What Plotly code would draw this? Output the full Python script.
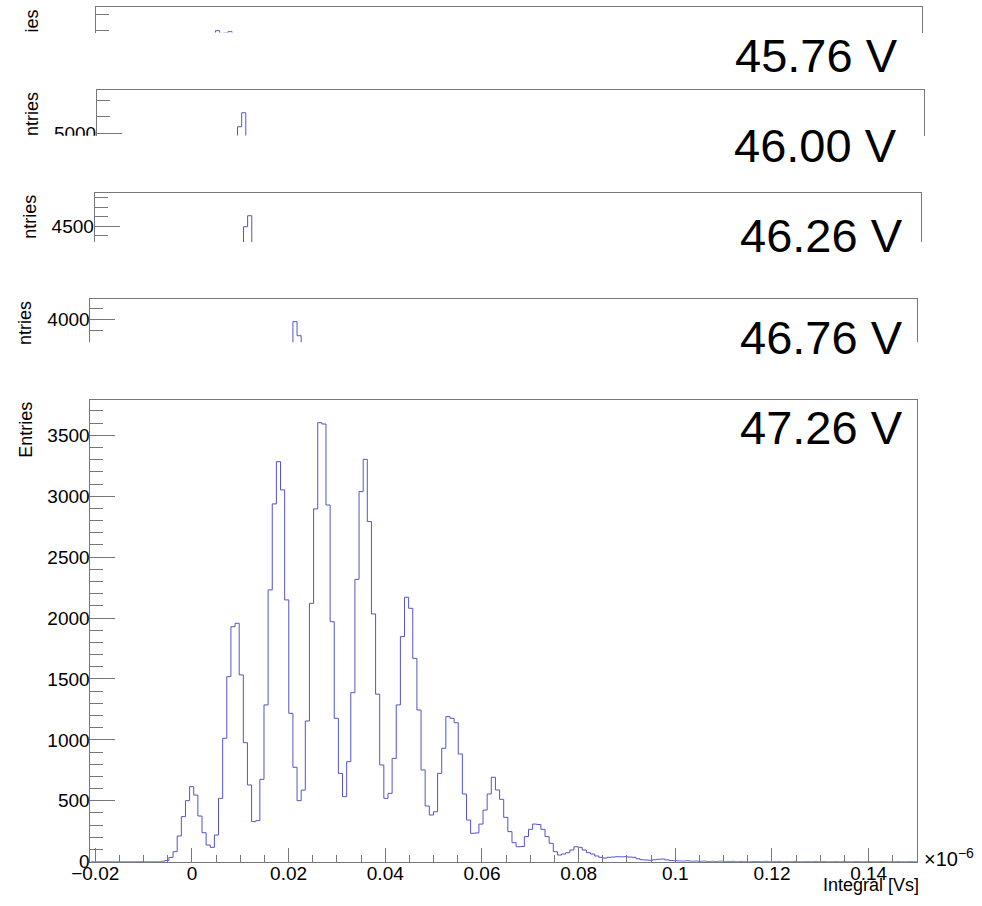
import numpy as np
import plotly.graph_objects as go

W, H = 982, 906

# Histogram binning (integral in units of 1e-6 Vs)
BIN_LO, BIN_HI, N_BINS = -0.021, 0.15, 200

# Bin contents of the full 47.26 V spectrum
COUNTS_4726 = [
    0, 0, 0, 0, 0, 0, 0, 0, 0, 0,
    0, 0, 0, 0, 0, 0, 0, 3, 10, 35,
    82, 211, 370, 501, 616, 547, 375, 238, 137, 118,
    219, 520, 1013, 1519, 1929, 1957, 1533, 977, 630, 329,
    337, 676, 1287, 2231, 2937, 3284, 3052, 2149, 1218, 775,
    501, 588, 1155, 2121, 2896, 3604, 3593, 2928, 1970, 1177,
    725, 534, 821, 1387, 2318, 3038, 3303, 2792, 2034, 1375,
    794, 520, 561, 848, 1287, 1848, 2171, 2080, 1669, 1245,
    753, 457, 383, 410, 725, 931, 1191, 1177, 1141, 884,
    556, 342, 233, 236, 309, 424, 556, 693, 589, 512,
    364, 247, 156, 123, 125, 206, 266, 309, 305, 266,
    206, 151, 82, 55, 63, 74, 96, 123, 118, 96,
    74, 63, 47, 36, 30, 36, 38, 41, 40, 41,
    38, 36, 24, 16, 14, 12, 16, 20, 22, 15,
    9, 8, 6, 5, 7, 4, 5, 3, 4, 2,
    3, 2, 4, 1, 2, 3, 0, 2, 1, 0,
    2, 1, 0, 3, 0, 1, 2, 0, 1, 0,
    2, 0, 0, 1, 0, 2, 0, 1, 0, 0,
    1, 0, 2, 0, 0, 1, 0, 0, 1, 0,
    0, 1, 0, 0, 0, 1, 0, 0, 1, 0,
]

# Bins around the maximum of the lower-voltage spectra
BINS_4576 = [28, 29, 30, 31, 32, 33]
COUNTS_4576 = [6120, 6204, 6170, 6175, 6191, 6140]
BINS_4600 = [33, 34, 35, 36]
COUNTS_4600 = [4900, 5079, 5247, 4900]
BINS_4626 = [35, 36, 37, 38]
COUNTS_4626 = [4300, 4496, 4611, 4300]
BINS_4676 = [48, 49, 50, 51]
COUNTS_4676 = [3700, 3979, 3853, 3700]

VOLTAGES = ["45.76 V", "46.00 V", "46.26 V", "46.76 V", "47.26 V"]

edges = np.linspace(BIN_LO, BIN_HI, N_BINS + 1)

HIST = "#5555c4"
FRAME = "#777777"
FONT = "Liberation Sans, Arial, sans-serif"
TICK_SIZE = 19


def step_xy(bins, counts):
    bins = list(bins)
    xs = [edges[b] for b in bins] + [edges[bins[-1] + 1]]
    ys = list(counts) + [counts[-1]]
    return xs, ys


def px_x(p):
    return p / W


def px_y(p):
    return 1 - p / H


FRAME_W = 826.6  # frame width in pixels
# (left px, top px, bottom px, y range, major dtick, minor dtick)
panels = [
    (95.7, 7.3, 32.5, [6181, 6496], 1000, 200),
    (97.0, 90.0, 135.5, [4974, 5520], 1000, 200),
    (94.7, 192.7, 242.0, [4337, 4851], 500, 100),
    (90.4, 299.3, 342.3, [3794, 4180], 500, 100),
    (90.4, 400.0, 861.7, [0, 3790], 500, 100),
]
series = [
    (BINS_4576, COUNTS_4576),
    (BINS_4600, COUNTS_4600),
    (BINS_4626, COUNTS_4626),
    (BINS_4676, COUNTS_4676),
    (list(range(N_BINS)), COUNTS_4726),
]

fig = go.Figure()
layout = dict(
    template="none",
    width=W, height=H, margin=dict(l=0, r=0, t=0, b=0, pad=0, autoexpand=False),
    paper_bgcolor="white", plot_bgcolor="white", showlegend=False,
    font=dict(family=FONT, color="black", size=18),
)

for i, ((left, top, bot, yr, dmaj, dmin), (bins, counts)) in enumerate(zip(panels, series)):
    n = i + 1
    xa = "x" if n == 1 else f"x{n}"
    ya = "y" if n == 1 else f"y{n}"
    xs, ys = step_xy(bins, counts)
    fig.add_trace(go.Scatter(x=xs, y=ys, mode="lines", xaxis=xa, yaxis=ya,
                             line=dict(color=HIST, width=1, shape="hv"),
                             hoverinfo="skip"))
    is_main = (n == 5)
    xkey = "xaxis" if n == 1 else f"xaxis{n}"
    ykey = "yaxis" if n == 1 else f"yaxis{n}"
    xdict = dict(
        domain=[px_x(left), px_x(left + FRAME_W)], range=[BIN_LO, BIN_HI],
        anchor=ya, showline=True, linecolor=FRAME, linewidth=1,
        showgrid=False, zeroline=False, automargin=False,
    )
    if is_main:
        xdict.update(mirror=True, ticks="inside", ticklen=14, tickcolor=FRAME,
                     tickwidth=1, tick0=0, dtick=0.02, showticklabels=True,
                     ticklabelstandoff=-6,
                     tickfont=dict(size=TICK_SIZE, family=FONT, color="black"),
                     minor=dict(ticks="inside", ticklen=7, tickcolor=FRAME,
                                dtick=0.005, tick0=0, showgrid=False))
    else:
        xdict.update(side="top", ticks="", showticklabels=False)
    ydict = dict(
        domain=[px_y(bot), px_y(top)], range=yr, anchor=xa,
        showline=True, mirror=True, linecolor=FRAME, linewidth=1,
        showgrid=False, zeroline=False, ticks="inside", ticklen=25,
        tickcolor=FRAME, tickwidth=1, tick0=0, dtick=dmaj, automargin=False,
        ticklabelstandoff=-4,
        tickfont=dict(size=TICK_SIZE, family=FONT, color="black"),
        minor=dict(ticks="inside", ticklen=13, tickcolor=FRAME,
                   dtick=dmin, tick0=0, showgrid=False),
    )
    layout[xkey] = xdict
    layout[ykey] = ydict

annotations = []
# Axis titles; the lower-voltage strips only show part of theirs
titles = [("ies", 31.7, 7.3), ("ntries", 32.0, 90.0), ("ntries", 30.0, 192.7),
          ("ntries", 25.7, 299.3), ("Entries", 25.7, 400.0)]
for text, cx, ty in titles:
    annotations.append(dict(text=text, x=px_x(cx), y=px_y(ty), xref="paper", yref="paper",
                            xanchor="center", yanchor="top", textangle=-90,
                            showarrow=False, font=dict(size=18, family=FONT, color="black")))

label_pos = [(816, 55.5), (815.5, 145.5), (821, 235.8), (821.5, 337.5), (821.5, 427.5)]
for text, (cx, cy) in zip(VOLTAGES, label_pos):
    annotations.append(dict(text=text, x=px_x(cx), y=px_y(cy), xref="paper", yref="paper",
                            xanchor="center", yanchor="middle", showarrow=False,
                            font=dict(size=47, family=FONT, color="black")))

annotations.append(dict(text="Integral [Vs]", x=px_x(921), y=px_y(885), xref="paper",
                        yref="paper", xanchor="right", yanchor="middle", showarrow=False,
                        font=dict(size=18, family=FONT, color="black")))
annotations.append(dict(text="×10<sup>−6</sup>", x=px_x(922), y=px_y(857), xref="paper",
                        yref="paper", xanchor="left", yanchor="middle", showarrow=False,
                        font=dict(size=20, family=FONT, color="black")))
layout["annotations"] = annotations

# The 46.00 V strip ends through its lowest tick label
layout["shapes"] = [dict(type="rect", xref="paper", yref="paper", layer="above",
                         x0=0, x1=px_x(96), y0=px_y(150), y1=px_y(135.8),
                         fillcolor="white", line=dict(width=0))]

fig.update_layout(**layout)
fig.write_html("out.html")
